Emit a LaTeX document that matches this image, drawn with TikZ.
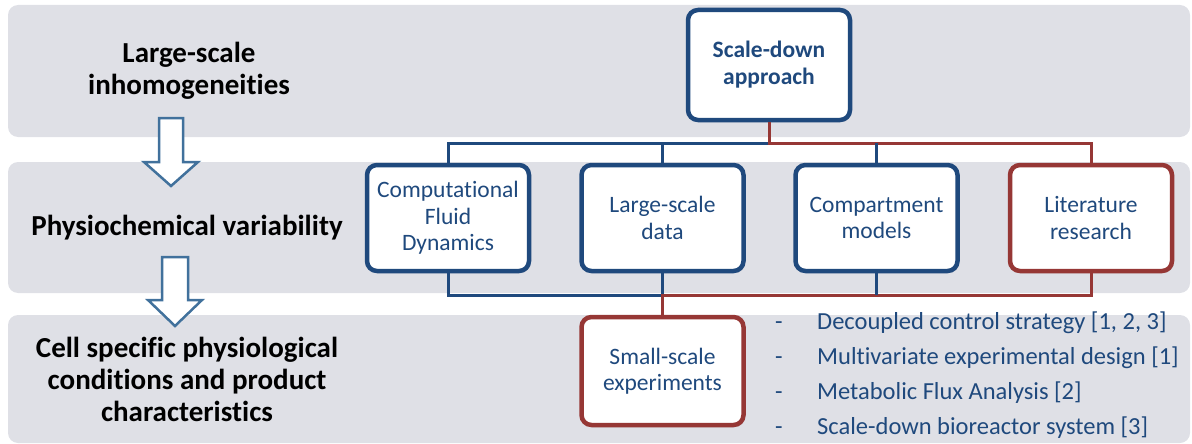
\documentclass[tikz,border=0pt]{standalone}
\usepackage{fontspec}
\setmainfont{Carlito}[Ligatures=NoCommon]
\usetikzlibrary{shadows}
\definecolor{bandgray}{RGB}{223,224,230}
\definecolor{navy}{RGB}{31,73,125}
\definecolor{brick}{RGB}{150,55,53}
\definecolor{arrowblue}{RGB}{65,113,156}
\tikzset{
  band/.style={fill=bandgray, draw=none, rounded corners=10pt},
  card/.style={draw=#1, line width=4.5pt, fill=white, rounded corners=10pt,
    minimum width=162pt, minimum height=106pt, align=center, text=navy,
    font=\fontsize{23.5}{26.5}\selectfont, inner sep=2pt,
    drop shadow={opacity=0.22, shadow xshift=1.5pt, shadow yshift=-2pt}},
  blueline/.style={draw=navy, line width=3pt},
  redline/.style={draw=brick, line width=3pt},
  stage/.style={align=center, text=black, font=\bfseries\fontsize{29}{32}\selectfont},
  bullettext/.style={anchor=mid west, text=navy, font=\fontsize{24.5}{28}\selectfont, inner sep=0pt},
  flow/.style={draw=arrowblue, line width=2.5pt, fill=white, line join=miter},
}
\begin{document}
\begin{tikzpicture}[x=1pt, y=-1pt]
\clip (0,0) rectangle (1192,444);

% background bands
\fill[band] (8,5) rectangle (1190,137);
\fill[band] (8,162) rectangle (1190,293);
\fill[band] (8,315) rectangle (1190,443);

% stage labels
\node[stage] (s1) at (189,71) {Large-scale\\inhomogeneities};
\node[stage] (s2) at (187,228) {Physiochemical variability};
\node[stage] (s3) at (187,379) {Cell specific physiological\\conditions and product\\characteristics};

% block arrows between stages
\draw[flow] (159,118) -- (183,118) -- (183,162) -- (198,162) -- (171,186)
  -- (144,162) -- (159,162) -- cycle;
\draw[flow] (162,257) -- (188,257) -- (188,300) -- (202,300) -- (175,326)
  -- (148,300) -- (162,300) -- cycle;

% junction points of the connectors
\coordinate (jt) at (769,143);
\coordinate (jb) at (662.5,295);

% method boxes
\node[card=navy, minimum height=110pt, font=\bfseries\fontsize{23.5}{27}\selectfont] (top) at (769,65) {Scale-down\\approach};
\node[card=navy] (cfd) at (448,218) {Computational\\Fluid\\Dynamics};
\node[card=navy] (lsd) at (662.5,218) {Large-scale\\data};
\node[card=navy] (cmp) at (876.5,218) {Compartment\\models};
\node[card=brick] (lit) at (1091,218) {Literature\\research};
\node[card=brick, minimum height=108pt] (small) at (662.5,371) {Small-scale\\experiments};

% connectors
\draw[blueline] (jt) -| (cfd.north);
\draw[blueline] (lsd.north) -- (lsd.north |- jt);
\draw[redline] (top.south) -- (jt) -| (lit.north);
\draw[blueline] (cmp.north) -- (cmp.north |- jt);
\draw[blueline] (cfd.south) |- (jb);
\draw[blueline] (lsd.south) -- (jb);
\draw[redline] (lit.south) |- (jb) -- (small.north);
\draw[blueline] (cmp.south) -- (cmp.south |- jb);

% list of small-scale methods
\foreach \i/\yy/\txt in {1/327/{Decoupled control strategy [1, 2, 3]},
                          2/362/{Multivariate experimental design [1]},
                          3/397/{Metabolic Flux Analysis [2]},
                          4/432/{Scale-down bioreactor system [3]}} {
  \node[bullettext] (d\i) at (775,\yy) {-};
  \node[bullettext] (b\i) at (817,\yy) {\txt};
}
\end{tikzpicture}
\end{document}
